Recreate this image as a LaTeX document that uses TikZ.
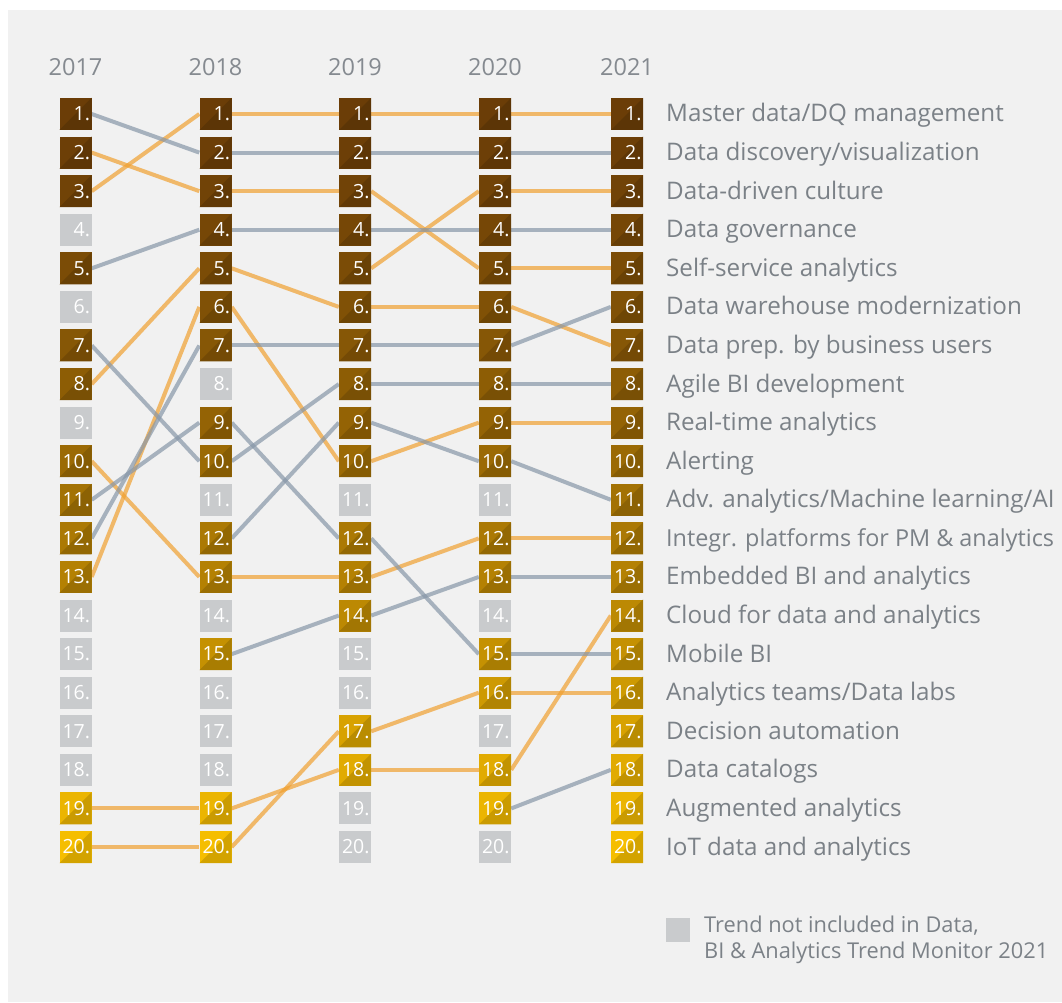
\documentclass[tikz,border=0pt]{standalone}
\usepackage{fontspec}
\setmainfont{Open Sans}
\usetikzlibrary{backgrounds}
\definecolor{panel}{HTML}{F1F1F1}
\definecolor{bxbrn}{HTML}{6B3D07}
\definecolor{bxyel}{HTML}{F5BE00}
\definecolor{bxgray}{HTML}{C9CBCD}
\definecolor{lorange}{HTML}{F0A030}
\definecolor{lgray}{HTML}{8797A8}
\definecolor{labc}{HTML}{7B8187}
\definecolor{yearc}{HTML}{858A90}
\tikzset{
  rbox/.style={minimum height=32pt, text width=29pt, inner xsep=1.5pt, inner ysep=0pt,
    align=right, text=white, font=\fontsize{19.5}{20}\selectfont,
    path picture={\fill[bxc!86!black] (path picture bounding box.south west) -| (path picture bounding box.north east) -- cycle;}},
  gbox/.style={minimum height=32pt, text width=29pt, inner xsep=1.5pt, inner ysep=0pt,
    align=right, text=white, fill=bxgray, font=\fontsize{19.5}{20}\selectfont},
  oline/.style={draw=lorange, line width=4pt, opacity=0.7},
  gline/.style={draw=lgray, line width=4pt, opacity=0.7},
  lab/.style={anchor=base west, inner sep=0pt, text=labc, font=\fontsize{24.2}{28}\selectfont},
  yearlab/.style={anchor=base, inner sep=0pt, text=yearc, font=\fontsize{23.5}{28}\selectfont},
  leglab/.style={anchor=base west, inner sep=0pt, text=labc, font=\fontsize{21.8}{26}\selectfont}
}
\newcommand\colbox[3]{%
  \pgfmathsetmacro\bxt{100*(((#3)-0.999)/19)^1.4}%
  \colorlet{bxc}{bxyel!\bxt!bxbrn}%
  \node[rbox, fill=bxc] (b#1-#3) at (#2, {114+((#3)-1)*38.58}) {#3.};%
}
\newcommand\grbox[3]{%
  \node[gbox] (b#1-#3) at (#2, {114+((#3)-1)*38.58}) {#3.};%
}
\begin{document}
\begin{tikzpicture}[x=1pt, y=-1pt]
\useasboundingbox (0,0) rectangle (1062,1003);
\begin{pgfonlayer}{background}
  \fill[panel] (8,10) rectangle (1062,1002);
\end{pgfonlayer}
% year labels
\node[yearlab] (y2017) at (75.5,75.5) {2017};
\node[yearlab] (y2018) at (215.5,75.5) {2018};
\node[yearlab] (y2019) at (355,75.5) {2019};
\node[yearlab] (y2020) at (495,75.5) {2020};
\node[yearlab] (y2021) at (627,75.5) {2021};
% 2017
\foreach \r in {1,2,3,5,7,8,10,11,12,13,19,20} {\colbox{a}{75.5}{\r}}
\foreach \r in {4,6,9,14,15,16,17,18} {\grbox{a}{75.5}{\r}}
% 2018
\foreach \r in {1,2,3,4,5,6,7,9,10,12,13,15,19,20} {\colbox{b}{215.5}{\r}}
\foreach \r in {8,11,14,16,17,18} {\grbox{b}{215.5}{\r}}
% 2019
\foreach \r in {1,2,3,4,5,6,7,8,9,10,12,13,14,17,18} {\colbox{c}{355}{\r}}
\foreach \r in {11,15,16,19,20} {\grbox{c}{355}{\r}}
% 2020
\foreach \r in {1,2,3,4,5,6,7,8,9,10,12,13,15,16,18,19} {\colbox{d}{495}{\r}}
\foreach \r in {11,14,17,20} {\grbox{d}{495}{\r}}
% 2021
\foreach \r in {1,...,20} {\colbox{e}{627}{\r}}
% connectors
\begin{pgfonlayer}{background}
  % 2017 -> 2018
  \foreach \s/\t in {2/3,3/1,8/5,10/13,13/6,19/19,20/20} {\path[oline] (ba-\s.east) -- (bb-\t.west);}
  \foreach \s/\t in {1/2,5/4,7/10,11/9,12/7} {\path[gline] (ba-\s.east) -- (bb-\t.west);}
  % 2018 -> 2019
  \foreach \s/\t in {1/1,3/3,5/6,6/10,13/13,19/18,20/17} {\path[oline] (bb-\s.east) -- (bc-\t.west);}
  \foreach \s/\t in {2/2,4/4,7/7,9/12,10/8,12/9,15/14} {\path[gline] (bb-\s.east) -- (bc-\t.west);}
  % 2019 -> 2020
  \foreach \s/\t in {1/1,3/5,5/3,6/6,10/9,13/12,17/16,18/18} {\path[oline] (bc-\s.east) -- (bd-\t.west);}
  \foreach \s/\t in {2/2,4/4,7/7,8/8,9/10,12/15,14/13} {\path[gline] (bc-\s.east) -- (bd-\t.west);}
  % 2020 -> 2021
  \foreach \s/\t in {1/1,3/3,5/5,6/7,9/9,12/12,16/16,18/14} {\path[oline] (bd-\s.east) -- (be-\t.west);}
  \foreach \s/\t in {2/2,4/4,7/6,8/8,10/11,13/13,15/15,19/18} {\path[gline] (bd-\s.east) -- (be-\t.west);}
\end{pgfonlayer}
% labels
\foreach \r/\txt in {1/Master data\slash DQ management,2/Data discovery\slash visualization,3/Data-driven culture,4/Data governance,5/Self-service analytics,6/Data warehouse modernization,7/Data prep. by business users,8/Agile BI development,9/Real-time analytics,10/Alerting,11/Adv. analytics\slash Machine learning\slash AI,13/Embedded BI and analytics,14/Cloud for data and analytics,15/Mobile BI,16/Analytics teams\slash Data labs,17/Decision automation,18/Data catalogs,19/Augmented analytics,20/IoT data and analytics}
  {\node[lab] (l\r) at (666, {122+(\r-1)*38.58}) {\txt};}
\node[lab, font=\fontsize{23.4}{28}\selectfont] (l12) at (666, {122+11*38.58}) {Integr. platforms for PM \& analytics};
% legend
\node[fill=bxgray, minimum size=24pt, inner sep=0pt] (legbox) at (678,930) {};
\node[leglab] (leg1) at (704,932) {Trend not included in Data,};
\node[leglab] (leg2) at (704,958) {BI \& Analytics Trend Monitor 2021};
\end{tikzpicture}
\end{document}
